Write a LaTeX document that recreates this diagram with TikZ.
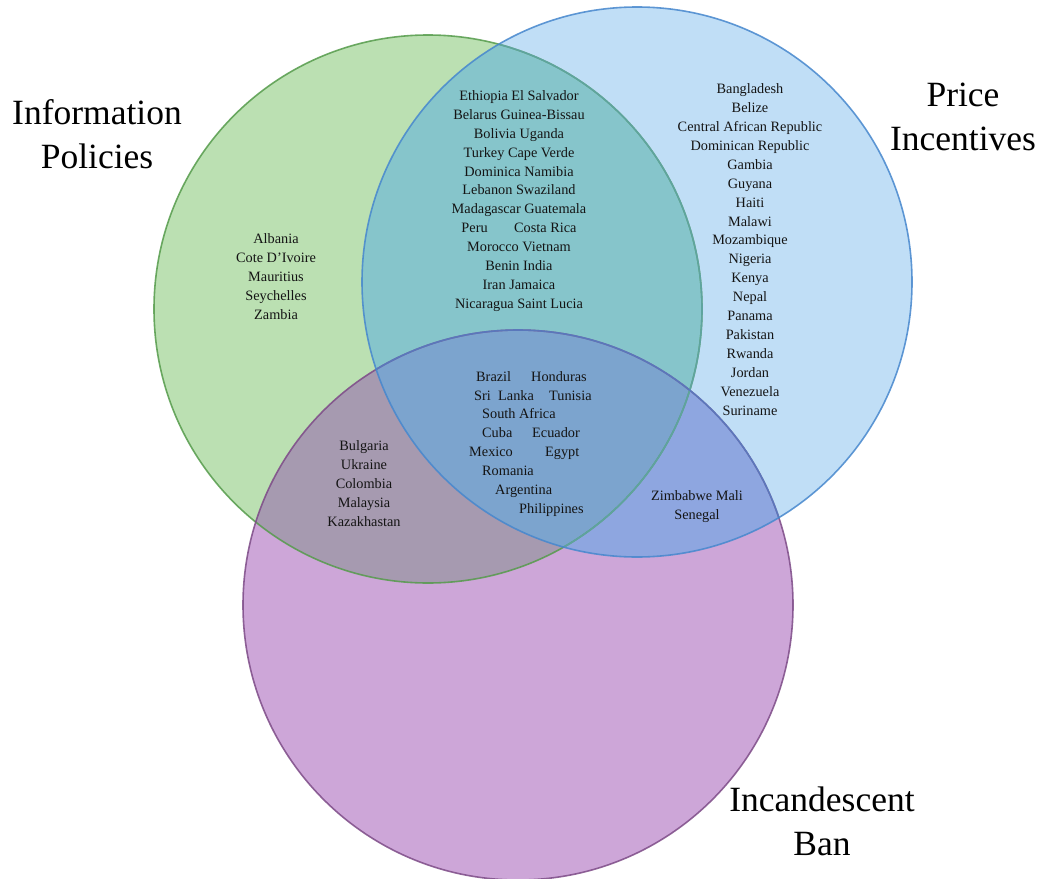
\documentclass[tikz,border=0pt]{standalone}
\usepackage{fontspec}
\setmainfont{Liberation Serif}
\definecolor{gonly}{RGB}{187,224,178}
\definecolor{bonly}{RGB}{192,222,246}
\definecolor{ponly}{RGB}{205,166,216}
\definecolor{gb}{RGB}{134,197,203}
\definecolor{gp}{RGB}{166,154,176}
\definecolor{bp}{RGB}{142,166,224}
\definecolor{gbp}{RGB}{124,164,206}
\definecolor{gline}{RGB}{85,155,75}
\definecolor{bline}{RGB}{70,135,205}
\definecolor{pline}{RGB}{125,75,135}
\definecolor{glineb}{RGB}{95,165,170}
\definecolor{plineb}{RGB}{85,125,195}
\begin{document}
\begin{tikzpicture}[x=1pt,y=-1pt,
  centre/.style={inner sep=0pt,minimum size=0pt},
  rim/.style={line width=1.6pt,draw opacity=0.85},
  country/.style={font=\fontsize{14.3}{18.9}\selectfont,align=center,inner sep=0pt,text=black!92},
  word/.style={font=\fontsize{14.3}{18.9}\selectfont,inner sep=0pt,anchor=west,text height=9.5pt,text depth=3pt,text=black!92},
  biglabel/.style={font=\fontsize{35.5}{44}\selectfont,align=center,inner sep=0pt}]
\useasboundingbox (0,0) rectangle (1046,878);
\node[centre] (green) at (428,309) {};
\node[centre] (purple) at (518,605) {};
\node[centre] (blue) at (637,282) {};
% solid fills
\fill[gonly] (green.center) circle (274pt);
\fill[ponly] (purple.center) circle (275pt);
\fill[bonly] (blue.center) circle (275pt);
% overlaps
\begin{scope}
  \clip (green.center) circle (274pt);
  \fill[gb] (blue.center) circle (275pt);
  \fill[gp] (purple.center) circle (275pt);
\end{scope}
\begin{scope}
  \clip (purple.center) circle (275pt);
  \fill[bp] (blue.center) circle (275pt);
  \clip (green.center) circle (274pt);
  \fill[gbp] (blue.center) circle (275pt);
\end{scope}
% rims
\draw[rim,gline] (green.center) circle (274pt);
\draw[rim,pline] (purple.center) circle (275pt);
\begin{scope}
  \clip (blue.center) circle (275pt);
  \draw[rim,glineb] (green.center) circle (274pt);
  \draw[rim,plineb] (purple.center) circle (275pt);
\end{scope}
\draw[rim,bline] (blue.center) circle (275pt);
% labels
\node[biglabel] (info) at (97,134) {Information\\Policies};
\node[biglabel] (price) at (963,117) {Price\\Incentives};
\node[biglabel] (ban) at (822,821) {Incandescent\\Ban};
% regions
\node[country] (onlyinfo) at (276,276.5) {Albania\\Cote D'Ivoire\\Mauritius\\Seychelles\\Zambia};
\node[country] (infoprice) at (519,201) {Ethiopia El Salvador\\Belarus Guinea-Bissau\\Bolivia Uganda\\Turkey Cape Verde\\Dominica Namibia\\Lebanon Swaziland\\Madagascar Guatemala\\Peru \hspace{1.6em}Costa Rica\\Morocco Vietnam\\Benin India\\Iran Jamaica\\Nicaragua Saint Lucia};
\node[country] (onlyprice) at (750,249.5) {Bangladesh\\Belize\\Central African Republic\\Dominican Republic\\Gambia\\Guyana\\Haiti\\Malawi\\Mozambique\\Nigeria\\Kenya\\Nepal\\Panama\\Pakistan\\Rwanda\\Jordan\\Venezuela\\Suriname};
\node[country] (infoban) at (364,483.5) {Bulgaria\\Ukraine\\Colombia\\Malaysia\\Kazakhastan};
\node[country] (priceban) at (697,506.5) {Zimbabwe Mali\\Senegal};
% center region
\node[word] (c1) at (476,378) {Brazil};
\node[word] (c2) at (531,378) {Honduras};
\node[word] (c3) at (474,397) {Sri};
\node[word] (c4) at (498,397) {Lanka};
\node[word] (c5) at (549,397) {Tunisia};
\node[word] (c6) at (482,415) {South Africa};
\node[word] (c7) at (482,434) {Cuba};
\node[word] (c8) at (532,434) {Ecuador};
\node[word] (c9) at (469,453) {Mexico};
\node[word] (c10) at (545,453) {Egypt};
\node[word] (c11) at (482,472) {Romania};
\node[word] (c12) at (495,491) {Argentina};
\node[word] (c13) at (519,510) {Philippines};
\end{tikzpicture}
\end{document}
